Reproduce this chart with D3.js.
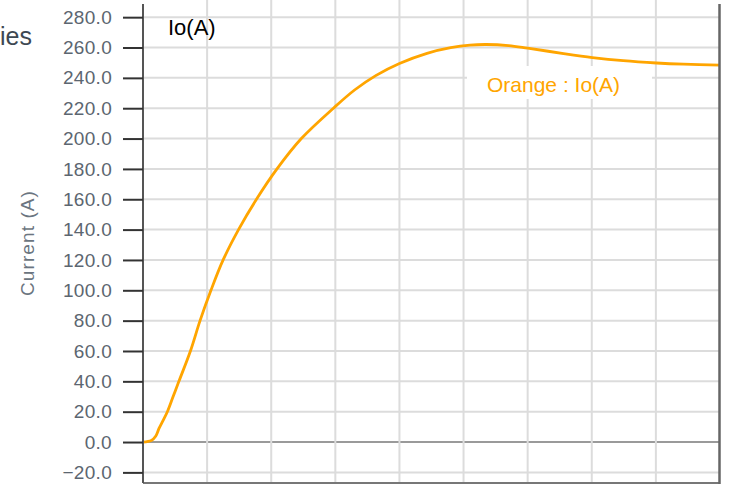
<!DOCTYPE html>
<html>
<head>
<meta charset="utf-8">
<script src="https://cdn.jsdelivr.net/npm/d3@7"></script>
<style>
  body { margin: 0; background: #fff; font-family: Arial, "Liberation Sans", sans-serif; }
</style>
</head>
<body>
<div id="chart"></div>
<script>
// time axis (no labels visible in the crop), one grid column per unit
const timeMs = [0, 0.13, 0.2, 0.25, 0.31, 0.38, 0.47, 0.56, 0.74, 0.89, 1.06, 1.25, 1.49, 1.77, 2.09,
                2.47, 2.97, 3.3, 3.63, 4.0, 4.43, 4.8, 5.1, 5.35, 5.7, 6.0, 6.56, 7.01, 7.49, 8.01, 8.43, 9.0];
const currentIo = [0, 1, 4, 9, 14, 20, 30, 40, 60, 80, 100, 120, 140, 160, 180,
                   200, 220, 232, 241.5, 249.5, 256.2, 259.9, 261.6, 262, 261.3, 259.6, 256, 253.4, 251.3, 249.8, 249, 248.4];
const yTicks = [-20, 0, 20, 40, 60, 80, 100, 120, 140, 160, 180, 200, 220, 240, 260, 280];
const xGrid = [1, 2, 3, 4, 5, 6, 7, 8];

const W = 754, H = 487;
const plotL = 143, plotR = 720, plotT = 2, plotB = 483;

const svg = d3.select("#chart").append("svg")
    .attr("width", W)
    .attr("height", H);

const x = d3.scaleLinear().domain([0, 9]).range([plotL, plotR]);
const y = d3.scaleLinear().domain([-27, 290]).range([plotB, plotT]);

// tail of the series title, cut by the left edge in the reference
svg.append("text")
    .attr("x", 0)
    .attr("y", 45)
    .attr("fill", "#3d4852")
    .style("font-size", "25px")
    .text("ies");

// grid
svg.append("g")
    .selectAll("line")
    .data(yTicks)
    .enter().append("line")
    .attr("x1", plotL).attr("x2", plotR)
    .attr("y1", d => y(d)).attr("y2", d => y(d))
    .attr("stroke", d => d === 0 ? "#9a9a9a" : "#dcdcdc")
    .attr("stroke-width", 2);

svg.append("g")
    .selectAll("line")
    .data(xGrid)
    .enter().append("line")
    .attr("x1", d => x(d)).attr("x2", d => x(d))
    .attr("y1", 0).attr("y2", plotB)
    .attr("stroke", "#dcdcdc")
    .attr("stroke-width", 2);

// legend label box (hides grid behind it)
svg.append("rect")
    .attr("x", 467).attr("y", 66)
    .attr("width", 185).attr("height", 33)
    .attr("fill", "#fff");

svg.append("text")
    .attr("x", 487)
    .attr("y", 92)
    .attr("fill", "#FFA500")
    .style("font-size", "21px")
    .text("Orange : Io(A)");

// the curve
svg.append("clipPath").attr("id", "clip")
    .append("rect")
    .attr("x", plotL).attr("y", plotT)
    .attr("width", plotR - plotL).attr("height", plotB - plotT);

const line = d3.line()
    .x((d, i) => x(timeMs[i]))
    .y(d => y(d))
    .curve(d3.curveCatmullRom.alpha(0.5));

svg.append("path")
    .datum(currentIo)
    .attr("clip-path", "url(#clip)")
    .attr("fill", "none")
    .attr("stroke", "#FFA500")
    .attr("stroke-width", 2.8)
    .attr("d", line);

// borders
svg.append("line")
    .attr("x1", plotL).attr("x2", plotR)
    .attr("y1", plotB).attr("y2", plotB)
    .attr("stroke", "#777").attr("stroke-width", 2);
svg.append("line")
    .attr("x1", plotR - 0.5).attr("x2", plotR - 0.5)
    .attr("y1", 4).attr("y2", plotB + 1)
    .attr("stroke", "#666").attr("stroke-width", 2.5);

// y axis
const yAxis = svg.append("g")
    .attr("transform", `translate(${plotL},0)`)
    .call(d3.axisLeft(y).tickValues(yTicks).tickSize(20).tickPadding(11).tickFormat(d3.format(".1f")));
yAxis.select(".domain")
    .attr("d", `M0,4V${plotB}`)
    .attr("stroke", "#555")
    .attr("stroke-width", 2);
yAxis.selectAll(".tick line")
    .attr("stroke", "#333")
    .attr("stroke-width", 2);
yAxis.selectAll(".tick text")
    .attr("fill", "#5c6670")
    .style("font-family", "Arial, 'Liberation Sans', sans-serif")
    .style("font-size", "19px")
    .style("letter-spacing", "0.3px");

svg.append("text")
    .attr("transform", "translate(34,243) rotate(-90)")
    .attr("text-anchor", "middle")
    .attr("fill", "#6b7580")
    .style("font-size", "19px")
    .style("letter-spacing", "1.1px")
    .text("Current (A)");

svg.append("text")
    .attr("x", 168)
    .attr("y", 35)
    .attr("fill", "#000")
    .style("font-size", "22px")
    .text("Io(A)");
</script>
</body>
</html>
